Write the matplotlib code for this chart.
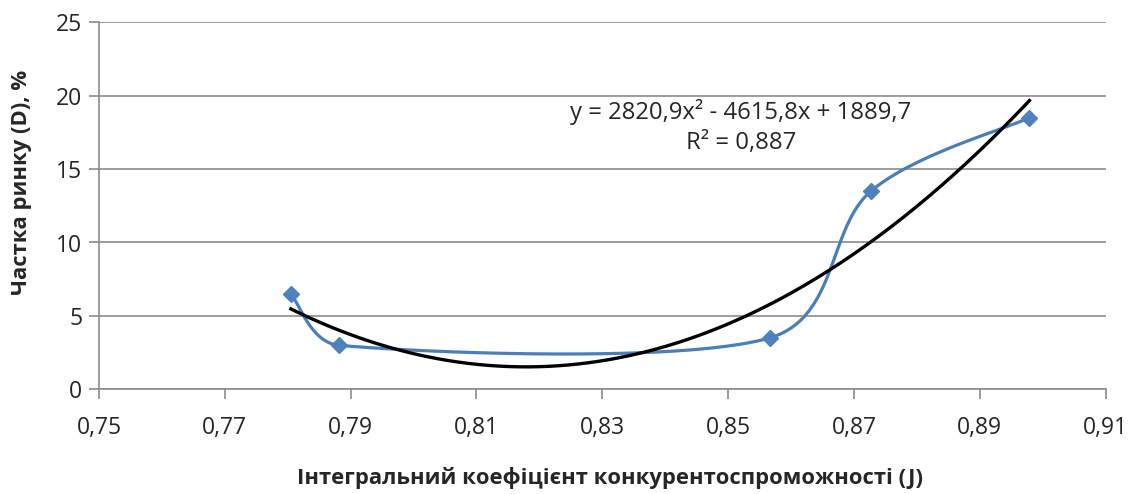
import numpy as np
import matplotlib
matplotlib.use("Agg")
import matplotlib.pyplot as plt

# Data
J = [0.7805, 0.7881, 0.8566, 0.8727, 0.8979]
D = [6.5, 3.0, 3.5, 13.5, 18.5]
x_ticks = [0.75, 0.77, 0.79, 0.81, 0.83, 0.85, 0.87, 0.89, 0.91]
y_ticks = [0, 5, 10, 15, 20, 25]
eq_text = "y = 2820,9x² - 4615,8x + 1889,7"
r2_text = "R² = 0,887"
x_label = "Інтегральний коефіцієнт конкурентоспроможності (J)"
y_label = "Частка ринку (D), %"

plt.rcParams['font.family'] = ['Open Sans', 'DejaVu Sans']

W, H = 1135, 494
fig = plt.figure(figsize=(W / 100, H / 100), dpi=100)
ax = fig.add_axes([99 / W, 1 - 389.3 / H, (1105.6 - 99) / W, (389.3 - 22.3) / H])
ax.set_xlim(x_ticks[0], x_ticks[-1])
ax.set_ylim(y_ticks[0], y_ticks[-1])

grey = '#8c8c8c'
ax.set_yticks(y_ticks)
ax.set_xticks(x_ticks)
ax.set_xticklabels([f"{v:.2f}".replace('.', ',') for v in x_ticks])
ax.set_yticklabels([str(v) for v in y_ticks])
ax.yaxis.grid(True, color=grey, linewidth=1.2)
ax.set_axisbelow(True)
for s in ['top', 'right']:
    ax.spines[s].set_visible(False)
for s in ['left', 'bottom']:
    ax.spines[s].set_color(grey)
    ax.spines[s].set_linewidth(1.2)
ax.tick_params(axis='both', colors=grey, length=7, width=1.2, direction='out',
               labelsize=16.5, labelcolor='#262626')
ax.tick_params(axis='x', pad=12)
ax.tick_params(axis='y', pad=5)

# Smoothed line (Catmull-Rom Bezier with clamped handles, in display space)
pts = ax.transData.transform(np.column_stack([J, D]))
n = len(pts)
d = np.linalg.norm(np.diff(pts, axis=0), axis=1)


def clamp(v, limit):
    L = np.linalg.norm(v)
    return v if L <= limit or L == 0 else v * (limit / L)


curve = []
t = np.linspace(0, 1, 80)
for i in range(n - 1):
    p0 = pts[i - 1] if i > 0 else pts[i]
    p1 = pts[i]
    p2 = pts[i + 1]
    p3 = pts[i + 2] if i + 2 < n else pts[i + 1]
    c1 = p1 + clamp((p2 - p0) / 6.0, 0.4 * d[i])
    c2 = p2 - clamp((p3 - p1) / 6.0, 0.4 * d[i])
    seg = ((1 - t) ** 3)[:, None] * p1 + (3 * (1 - t) ** 2 * t)[:, None] * c1 \
        + (3 * (1 - t) * t ** 2)[:, None] * c2 + (t ** 3)[:, None] * p2
    curve.append(seg)
curve = np.vstack(curve)
curve_data = ax.transData.inverted().transform(curve)
ax.plot(curve_data[:, 0], curve_data[:, 1], color='#4a7ebb', linewidth=2.3,
        solid_capstyle='round', zorder=3)
ax.plot(J, D, linestyle='none', marker='D', markersize=8.5,
        color='#4f81bd', zorder=4)

# Polynomial trend line
coef = np.polyfit(J, D, 2)
xs = np.linspace(min(J), max(J), 300)
ax.plot(xs, np.polyval(coef, xs), color='black', linewidth=2.4, zorder=5)

ax.text(0.852, 18.91, eq_text, fontsize=17.2, color='#262626', ha='center', va='center')
ax.text(0.852, 16.80, r2_text, fontsize=17.2, color='#262626', ha='center', va='center')

fig.text(610 / W, 1 - 478 / H, x_label, fontsize=15.8, fontweight='bold',
         color='#262626', ha='center', va='center')
fig.text(22 / W, 1 - 182 / H, y_label, fontsize=15.8, fontweight='bold',
         color='#262626', ha='center', va='center', rotation=90)

fig.savefig('out.png', dpi=100)
